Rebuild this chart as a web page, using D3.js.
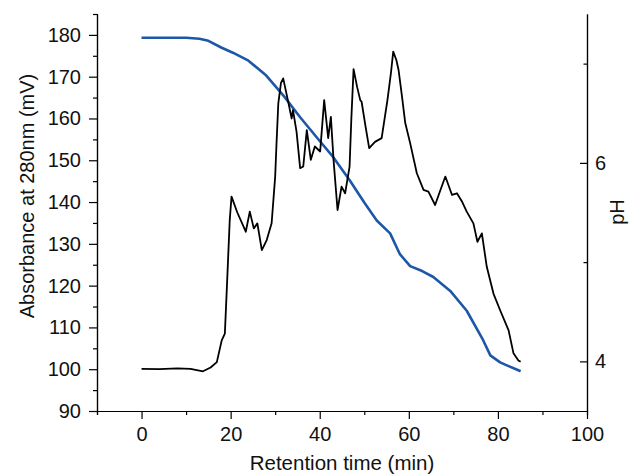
<!DOCTYPE html>
<html>
<head>
<meta charset="utf-8">
<script src="https://cdn.jsdelivr.net/npm/d3@7"></script>
<style>
  body { margin: 0; background: #fff; }
  svg { display: block; font-family: "Liberation Sans", Arial, Helvetica, sans-serif; }
  .axis path, .axis line { stroke: #000; stroke-width: 1.2; }
  .axis text { font-size: 20px; fill: #111; }
</style>
</head>
<body>
<svg id="chart" width="640" height="475"></svg>
<script>
// retention time (min) / absorbance (mV)
var absTime = [0, 4, 8, 11, 13.8, 15.5, 16.9, 18.0, 18.7, 19.1, 19.8, 20.2, 21.5, 23.4, 24.3, 25.2, 26.0, 27.0, 28.1,
  29.2, 30.0, 30.3, 30.7, 31.3, 31.8, 33.0, 33.7, 34.0, 34.8, 35.6, 36.3, 37.1, 38.0, 38.9, 40.1, 41.0, 41.9, 42.5, 43.1, 44.0,
  44.9, 45.7, 46.7, 47.1, 47.6, 48.4, 49.1, 49.4, 50.3, 51.1, 52.4, 53.9, 55.2, 56.0, 56.5, 57.2, 57.7, 58.5, 59.2, 60.3, 61.8, 63.3, 64.4, 65.9, 67.1,
  68.2, 69.7, 70.8, 72.0, 73.0, 74.5, 75.4, 76.4, 77.5, 79.0, 80.5, 82.4, 83.5, 84.6, 85.1];
var absValue = [100.1, 100.0, 100.2, 100.1, 99.5, 100.4, 101.7, 106.9, 108.5, 118.2, 135.7, 141.3, 137.5, 132.9, 137.7, 133.7, 134.9, 128.5, 130.9,
  134.9, 146.1, 154.0, 163.6, 168.5, 169.6, 163.6, 160.0, 162.0, 156.8, 148.1, 148.5, 157.2, 150.1, 153.3, 152.1, 164.4, 155.3, 160.4, 150.1, 138.1,
  143.7, 142.1, 148.5, 160.0, 171.8, 167.5, 164.4, 164.0, 158.0, 152.9, 154.4, 155.3, 164.4, 171.0, 176.0, 174.0, 171.6, 165.0, 158.9, 154.1, 146.9, 142.9, 142.5, 139.3, 142.9,
  146.1, 141.7, 142.1, 140.0, 137.7, 134.9, 130.5, 132.5, 124.5, 118.1, 114.1, 109.3, 103.8, 102.1, 101.8];

// pH gradient
var phTime = [0, 5, 10, 13, 15, 18, 20.5, 24, 28, 32, 35.6, 40, 43, 46.8, 50, 52.8, 55.8, 58, 60.3, 63, 65.5, 69.3, 73,
  76.5, 78.3, 80.5, 82, 84.6, 85.1];
var phValue = [7.26, 7.26, 7.26, 7.25, 7.23, 7.16, 7.11, 7.03, 6.88, 6.67, 6.46, 6.22, 6.06, 5.82, 5.6, 5.42, 5.29, 5.08, 4.96, 4.91, 4.85, 4.71, 4.51,
  4.23, 4.06, 3.99, 3.96, 3.91, 3.9];

var xMajor = [0, 20, 40, 60, 80, 100];
var xMinor = [-10, 10, 30, 50, 70, 90];
var yMajor = [90, 100, 110, 120, 130, 140, 150, 160, 170, 180];
var yMinor = [95, 105, 115, 125, 135, 145, 155, 165, 175, 185];
var phMajor = [4, 6];
var phMinor = [5, 7];

var margin = {top: 14, right: 53, bottom: 64, left: 97},
	svg = d3.select("#chart"),
	width = +svg.attr("width") - margin.left - margin.right,
	height = +svg.attr("height") - margin.top - margin.bottom,
	g = svg.append("g").attr("transform", "translate(" + margin.left + "," + margin.top + ")");

var x = d3.scaleLinear().domain([-10, 100]).range([0, width]);
var y = d3.scaleLinear().domain([90, 185]).range([height, 0]);
var yPh = d3.scaleLinear().domain([3.5, 7.5]).range([height, 0]);

// axes: minor ticks first, then the labelled ones
g.append("g").attr("class", "axis").attr("transform", "translate(0," + height + ")")
	.call(d3.axisBottom(x).tickValues(xMinor).tickSize(4).tickFormat(""));
g.append("g").attr("class", "axis").attr("transform", "translate(0," + height + ")")
	.call(d3.axisBottom(x).tickValues(xMajor).tickSize(8).tickPadding(8).tickSizeOuter(0));

g.append("g").attr("class", "axis")
	.call(d3.axisLeft(y).tickValues(yMinor).tickSize(4).tickFormat(""));
g.append("g").attr("class", "axis")
	.call(d3.axisLeft(y).tickValues(yMajor).tickSize(8).tickPadding(8).tickSizeOuter(0));

g.append("g").attr("class", "axis").attr("transform", "translate(" + width + ",0)")
	.call(d3.axisRight(yPh).tickValues(phMinor).tickSize(-3.5).tickFormat("").tickSizeOuter(0));
g.append("g").attr("class", "axis").attr("transform", "translate(" + width + ",0)")
	.call(d3.axisRight(yPh).tickValues(phMajor).tickSize(-7).tickPadding(8).tickFormat(d3.format("d")).tickSizeOuter(0));

// traces
var absLine = d3.line()
	.x(function(d, i) { return x(absTime[i]); })
	.y(function(d) { return y(d); });
var phLine = d3.line()
	.x(function(d, i) { return x(phTime[i]); })
	.y(function(d) { return yPh(d); });

g.append("path")
	.datum(phValue)
	.attr("fill", "none")
	.attr("stroke", "#1d57a7")
	.attr("stroke-width", 2.6)
	.attr("stroke-linejoin", "round")
	.attr("d", phLine);

g.append("path")
	.datum(absValue)
	.attr("fill", "none")
	.attr("stroke", "#000")
	.attr("stroke-width", 1.8)
	.attr("stroke-linejoin", "round")
	.attr("d", absLine);

// titles
svg.append("text")
	.attr("x", margin.left + width / 2)
	.attr("y", 470)
	.attr("text-anchor", "middle")
	.attr("font-size", 20.5)
	.attr("fill", "#111")
	.text("Retention time (min)");

svg.append("text")
	.attr("transform", "translate(34,196) rotate(-90)")
	.attr("text-anchor", "middle")
	.attr("font-size", 20)
	.attr("fill", "#111")
	.text("Absorbance at 280nm (mV)");

svg.append("text")
	.attr("transform", "translate(624,212) rotate(-90)")
	.attr("text-anchor", "middle")
	.attr("font-size", 20)
	.attr("fill", "#111")
	.text("pH");
</script>
</body>
</html>
